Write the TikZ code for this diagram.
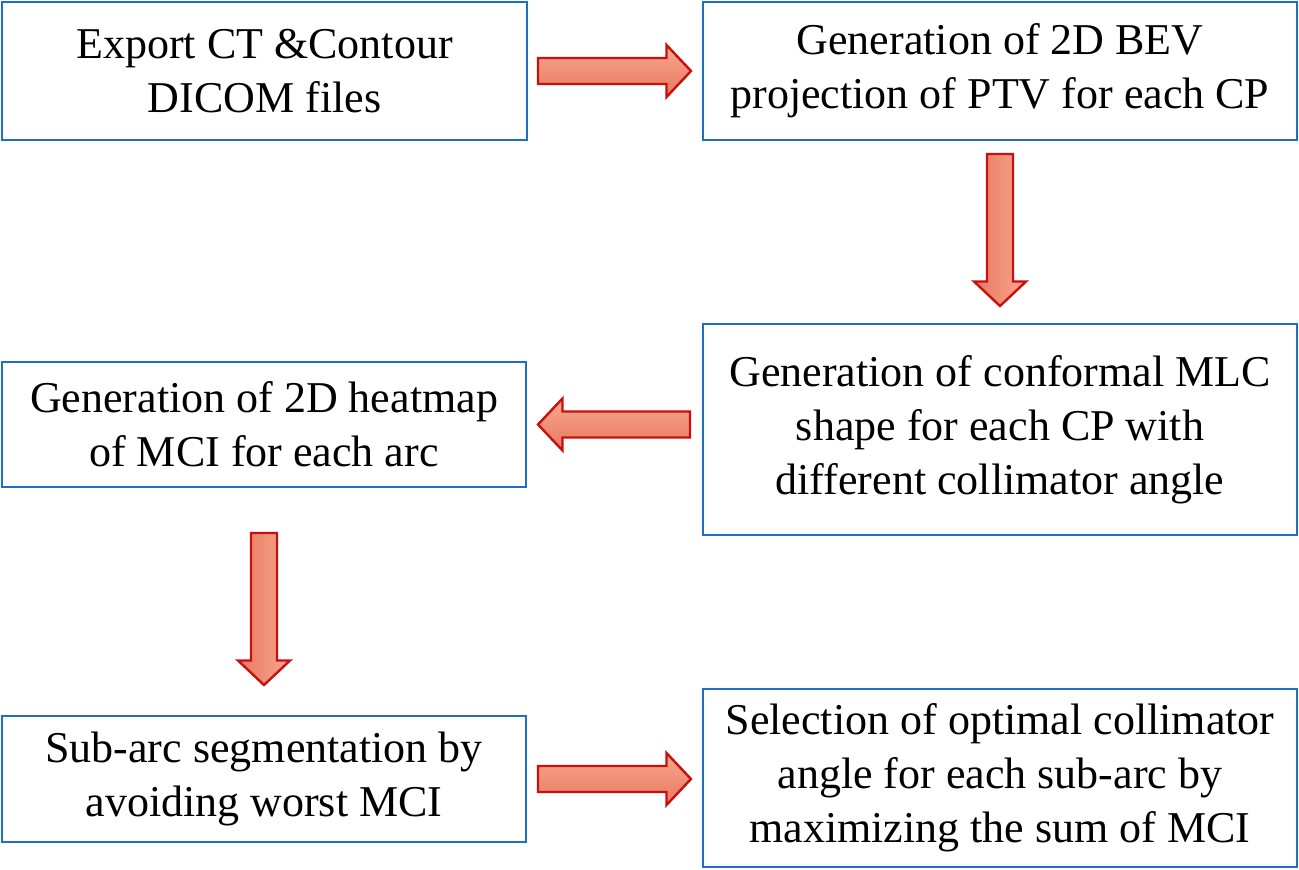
\documentclass[tikz,border=0pt]{standalone}
\usepackage{fontspec}
\setmainfont{Liberation Serif}
\usetikzlibrary{calc}
\definecolor{boxblue}{HTML}{1E6FC8}
\definecolor{arrline}{HTML}{C81010}
\definecolor{arrlight}{HTML}{F8A88E}
\definecolor{arrdark}{HTML}{E87860}
\tikzset{
  box/.style={draw=boxblue, line width=1pt, fill=white, align=center,
    inner sep=0pt, font=\fontsize{22}{27}\selectfont},
  fatarr/.style={draw=arrline, line width=1.2pt, line join=miter},
  harr/.style={top color=arrlight, bottom color=arrdark},
  varr/.style={left color=arrdark, right color=arrlight}
}
\newcommand\fatarrow[3][]{%
  \path[fatarr,#1] let \p1=($(#3)!12.25pt!(#2)$) in
    ($(#2)!6.5pt!90:(#3)$) -- ($(\p1)!6.5pt!90:(#3)$) -- ($(\p1)!13pt!90:(#3)$)
    -- (#3) -- ($(\p1)!13pt!-90:(#3)$) -- ($(\p1)!6.5pt!-90:(#3)$)
    -- ($(#2)!6.5pt!-90:(#3)$) -- cycle;}
\begin{document}
\begin{tikzpicture}[x=0.5pt,y=-0.5pt]
\useasboundingbox (0,0) rectangle (1299,870);
\node[box, minimum width=262.5pt, minimum height=69pt] (b1) at (264.5,71)
  {Export CT \&Contour\\DICOM files};
\node[box, minimum width=297pt, minimum height=69pt] (b2) at (1000,71)
  {Generation of 2D BEV\\projection of PTV for each CP};
\node[box, minimum width=297pt, minimum height=105.5pt] (b3) at (1000,429.5)
  {Generation of conformal MLC\\shape for each CP with\\different collimator angle};
\node[box, minimum width=262pt, minimum height=62.5pt] (b4) at (264,424.5)
  {Generation of 2D heatmap\\of MCI for each arc};
\node[box, minimum width=262pt, minimum height=63pt] (b5) at (264,779)
  {Sub-arc segmentation by\\avoiding worst MCI};
\node[box, minimum width=297pt, minimum height=89pt] (b6) at (1000,778)
  {Selection of optimal collimator\\angle for each sub-arc by\\maximizing the sum of MCI};
% arrow end points
\coordinate (a1s) at ([xshift=5pt]b1.east);
\coordinate (a1e) at ([xshift=-5.5pt]b2.west);
\coordinate (a2s) at ([yshift=-6.5pt]b2.south);
\coordinate (a2e) at ([yshift=8.5pt]b3.north);
\coordinate (a3s) at ($(b3.west |- b4.east)+(-6pt,0)$);
\coordinate (a3e) at ([xshift=5.5pt]b4.east);
\coordinate (a5s) at ([yshift=-22.5pt]b4.south);
\coordinate (a5e) at ([yshift=15pt]b5.north);
\coordinate (a4s) at ([xshift=5.5pt]b5.east);
\coordinate (a4e) at ($(b6.west |- b5.east)+(-5.5pt,0)$);
\fatarrow[harr]{a1s}{a1e}
\fatarrow[varr]{a2s}{a2e}
\fatarrow[harr]{a3s}{a3e}
\fatarrow[varr]{a5s}{a5e}
\fatarrow[harr]{a4s}{a4e}
\end{tikzpicture}
\end{document}
